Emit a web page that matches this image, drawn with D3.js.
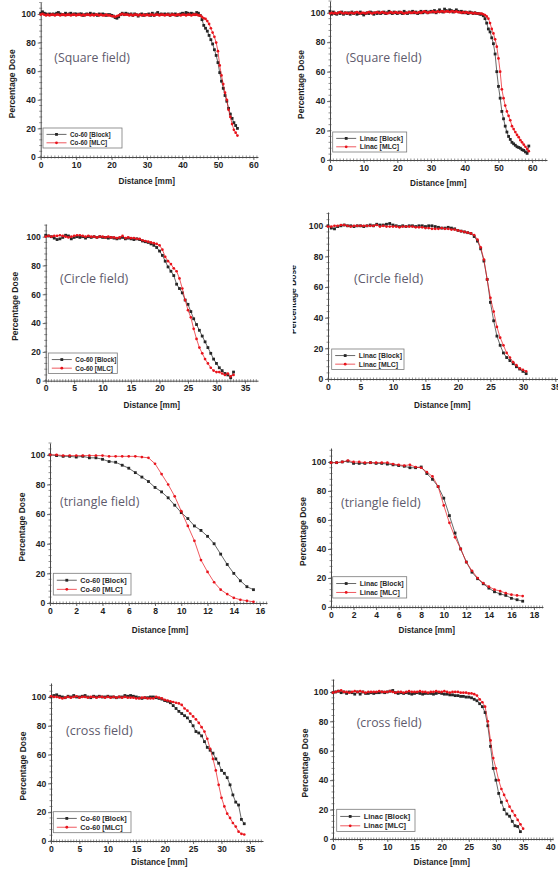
<!DOCTYPE html>
<html>
<head>
<meta charset="utf-8">
<script src="https://cdn.jsdelivr.net/npm/d3@7"></script>
<style>
  html, body { margin: 0; padding: 0; background: #fff; }
  svg { display: block; }
</style>
</head>
<body>
<svg id="chart" width="558" height="870"></svg>
<script>
const STEP = 0.5 // mm between measured points, every series starts at 0 mm

// Square field, Co-60 (0 .. 55.5 mm)
const squareCoBlock = [
  100.5, 101.5, 100.5, 100, 99.5, 100, 99.5, 100, 99.5, 100.5,
  101, 100, 99.5, 99.5, 100.5, 99.5, 100, 100.5, 99.5, 100,
  100, 99.5, 100, 100, 99, 99.5, 100, 99.5, 100.5, 99.5,
  100, 99.5, 99, 100, 99.5, 100, 99.5, 99, 99.5, 99.5,
  99, 98.5, 97.5, 97, 98, 99.5, 100.5, 99.5, 100.5, 100,
  99.5, 100, 99, 100, 99.5, 98.5, 99.5, 100, 99, 99.5,
  99.5, 100, 99, 100.5, 99, 100, 101, 99.5, 100, 99.5,
  100, 99.5, 100, 99, 100, 99.5, 100, 99, 99.5, 100,
  100.5, 100, 101, 100.5, 100, 100.5, 100, 99.5, 101, 100.5,
  99, 96, 92, 90, 88, 85, 82, 79, 75, 71, 66, 59, 53, 48, 43, 39, 34, 30, 27, 24, 22, 20
]
const squareCoMlc = [
  99.5, 100, 99.5, 99, 99.5, 99, 99.5, 99.5, 99, 99.5,
  99.5, 99, 99.5, 99.5, 99, 99.5, 99.5, 99, 99.5, 99.5,
  99, 99.5, 99.5, 99, 99.5, 99, 99.5, 99.5, 99, 99.5,
  99, 99.5, 99.5, 99, 99.5, 99, 99, 99.5, 99, 99,
  98.5, 98.5, 98, 98.5, 99, 99.5, 100, 99.5, 99.5, 99.5,
  99, 99.5, 99, 99.5, 99.5, 99, 99.5, 99, 99.5, 99,
  99.5, 99, 99.5, 99.5, 99, 99.5, 99.5, 99, 99.5, 99.5,
  99, 99.5, 99.5, 99, 99.5, 99.5, 99, 99.5, 99.5, 99,
  99.5, 99.5, 99, 99.5, 99.5, 99, 99.5, 99.5, 99.5, 99,
  99, 98, 97, 96.5, 95, 93, 90, 87, 84, 80, 74, 64, 57, 51, 45, 40, 33, 28, 23, 19, 17, 15
]

// Square field, Linac (0 .. 59 mm)
const squareLiBlock = [
  101, 99, 100.5, 99.5, 99, 100, 99.5, 100.5, 99, 100,
  99.5, 100, 99, 100.5, 99.5, 100, 99, 99.5, 100.5, 99.5,
  98.5, 99.5, 100, 99.5, 100.5, 100, 99, 100, 99.5, 100.5,
  99.5, 100, 100.5, 99.5, 100, 101, 100, 99.5, 100.5, 100,
  99.5, 100.5, 100, 99.5, 101, 100, 99.5, 100.5, 100, 101,
  100, 100.5, 99.5, 100, 101, 100, 100.5, 101, 100, 100.5,
  101, 100.5, 101.5, 100, 101, 102, 101, 100.5, 102.5, 101.5,
  101, 102, 101.5, 100.5, 101, 102, 101, 100.5, 101, 100,
  100.5, 100, 99.5, 100.5, 100, 99.5, 100, 99.5, 99.5, 99,
  99, 98, 96, 93, 89, 87, 83, 79, 72, 60, 50, 42, 33, 28, 23, 19, 16, 14, 12, 11,
  10, 9, 8.5, 8, 7, 6.5, 5.5, 4.5, 9.5
]
const squareLiMlc = [
  99.5, 100, 99.5, 100, 99.5, 100, 100.5, 100, 99.5, 100,
  100, 99.5, 100, 100, 99.5, 100, 100.5, 100, 99.5, 100,
  100, 99.5, 100, 100.5, 100, 99.5, 100, 100, 100.5, 100,
  100, 100.5, 100, 100, 99.5, 100, 100.5, 100, 100, 100.5,
  100, 100, 100.5, 100, 99.5, 100, 100, 100.5, 100, 100,
  100.5, 100, 100, 100.5, 100, 100.5, 101, 100.5, 100, 100.5,
  100.5, 101, 100.5, 100.5, 101, 100.5, 101, 101, 100.5, 101,
  101, 100.5, 101, 101, 100.5, 101, 100.5, 100.5, 100, 100.5,
  100, 100.5, 100, 100, 100, 99.5, 100, 99.5, 99.5, 99.5,
  99.5, 99, 98.5, 97.5, 96, 93, 89, 86, 82, 77, 69, 60, 48, 42, 37, 33, 30, 27, 23, 21,
  19, 17, 15.5, 13.5, 12, 10.5, 9, 7.5, 6
]

// Circle field, Co-60 (0 .. 33 mm)
const circleCoBlock = [
  101, 100.5, 100, 99, 98, 98.5, 99.5, 101, 100.5, 98.5,
  99.5, 100, 99.5, 100, 99, 100, 99.5, 100, 99.5, 100,
  99.5, 99.5, 99, 99.5, 99, 98.5, 99, 99.5, 98.5, 99,
  98.5, 98, 98.5, 98, 97, 96.5,
  96, 95, 94, 92.5, 90, 87, 83, 79, 76, 73, 67, 64, 61, 56, 53, 48, 43, 39, 35, 31,
  27, 23, 19, 15, 12, 9, 7, 5, 4, 2, 6
]
const circleCoMlc = [
  100, 100.5, 100, 100.5, 100.5, 101, 100.5, 100, 99.5, 100,
  100.5, 101, 101, 100.5, 100, 100.5, 100, 100, 99.5, 100,
  100, 99.5, 100, 99.5, 99.5, 99, 99.5, 100.5, 99, 99.5,
  99, 99, 98.5, 98.5, 97.5, 97,
  96.5, 96, 95.5, 95, 94, 91, 86, 83, 81, 78, 76, 71, 64, 56, 49, 44, 36, 29, 23, 19,
  15, 12, 9, 7, 6, 6, 5, 4, 5, 3, 4
]

// Circle field, Linac (0 .. 30.5 mm)
const circleLiBlock = [
  100, 98.5, 98, 99.5, 100, 100.5, 100, 100, 99.5, 100,
  100, 99.5, 100, 100.5, 100, 101, 100.5, 100.5, 101, 101.5,
  100.5, 100, 99.5, 100, 99.5, 100, 100, 99.5, 100, 100,
  99.5, 100, 100, 99.5, 99, 98.5, 98.5, 99, 98.5, 98,
  97, 96.5, 96, 95.5, 95, 93, 90, 85, 77, 65, 50, 38, 28, 22, 17, 14, 12, 10, 8, 6.5, 5, 3.5
]
const circleLiMlc = [
  99.5, 99.5, 100, 100, 100.5, 100.5, 100, 99.5, 100, 100,
  100, 100, 100, 100, 100, 100.5, 99.5, 100, 99.5, 99.5,
  99.5, 99.5, 99, 99.5, 99.5, 99.5, 99.5, 99, 99, 99,
  98.5, 98.5, 98, 98, 98, 98.5, 98, 98, 97.5, 97.5,
  97, 96.5, 96, 95.5, 95, 94, 91, 86, 78, 65, 53, 44, 34, 27, 22, 17, 14, 11, 9, 7, 6, 5
]

// Triangle field, Co-60 (0 .. 15.5 mm)
const triangleCoBlock = [
  100, 99.5, 99, 99, 98.5, 99, 98, 98, 97, 95.5, 95, 93, 91, 88, 85, 82,
  78, 75, 71, 66, 61, 57, 52, 49, 45, 40, 33, 26, 20, 15, 11, 9
]
const triangleCoMlc = [
  100, 100, 99.5, 99.5, 99.5, 99.5, 99.5, 99.5, 99.5, 99, 99, 99, 99, 99, 98.5, 98,
  94, 87, 80, 72, 62, 52, 42, 29, 21, 14, 9, 6, 3.5, 2.2, 1.5, 0.8
]

// Triangle field, Linac (0 .. 17 mm)
const triangleLiBlock = [
  99.5, 99.5, 100, 100.5, 99, 99, 99, 99.5, 99, 99, 98.5, 98, 97.5, 97, 96, 96,
  96.5, 92, 88, 83, 75, 63, 51, 40, 31, 24, 19.5, 16, 13, 10.5, 9, 8, 6, 5, 4
]
const triangleLiMlc = [
  99.5, 99.5, 100, 101, 100, 100, 99.5, 99.5, 99.5, 99.5, 99.5, 98.5, 98, 97.5, 98, 96.5,
  96, 93, 90, 83, 70, 58, 48, 40, 31, 25, 20, 16.5, 14, 12, 11, 9.5, 8.5, 8, 7.5
]

// Cross field, Co-60 (0 .. 34 mm)
const crossCoBlock = [
  100, 101, 101.5, 100.5, 100, 99.5, 100.5, 100, 101, 100,
  100, 100.5, 101, 100, 99.5, 100.5, 100, 100.5, 100, 100,
  100.5, 100, 100, 99.5, 100, 100, 101, 100.5, 101, 100.5,
  100, 99.5, 99, 99.5, 99.5, 100, 100, 99.5, 99, 98.5,
  97.5, 97, 96,
  94, 92, 90, 88.5, 87, 85.5, 83, 80, 76, 75, 73, 69, 65, 63, 61, 57, 54, 49, 47, 44,
  39, 32, 27, 25, 15, 12
]
const crossCoMlc = [
  100.5, 100, 100, 99.5, 99, 99.5, 100, 99.5, 100, 100.5,
  99.5, 100, 100, 99.5, 100, 100, 99.5, 100, 100, 99.5,
  100, 99.5, 100, 99.5, 100, 99.5, 100, 99.5, 99.5, 99.5,
  99, 99, 99.5, 99.5, 99, 99, 99, 100, 99.5, 99,
  98, 97.5, 97,
  96.5, 96, 95.5, 94.5, 92, 90.5, 88.5, 86.5, 84.5, 82, 79, 76, 71, 64, 57, 49, 39, 30,
  24, 19, 16, 12.5, 10, 6.5, 5, 4.5
]

// Cross field, Linac (0 .. 35 mm)
const crossLiBlock = [
  99.5, 100, 100.5, 99.5, 100, 99, 100, 99.5, 98.5, 100,
  98.5, 100, 99, 99, 99.5, 99, 99.5, 99.5, 100, 99.5,
  100, 100.5, 101, 99.5, 99, 99.5, 99, 99.5, 99, 98.5,
  99, 99.5, 99, 98.5, 99, 99, 99, 98.5, 99, 99.5,
  99, 98.5, 98.5, 98, 98, 97.5, 97.5, 97, 97, 96.5,
  96.5, 96, 95, 94,
  92, 90, 86, 77, 63, 48, 40, 31, 25, 20, 17, 15.5, 12, 9, 8.5, 5
]
const crossLiMlc = [
  99.5, 100, 100.5, 101, 100, 100, 99.5, 100, 100.5, 100,
  100.5, 100, 99.5, 100, 100, 100, 100, 100.5, 100, 100,
  100, 100.5, 100, 99.5, 100, 100, 99.5, 100, 100.5, 100,
  100, 100, 100.5, 100, 100, 99.5, 100, 100, 100.5, 100,
  100, 100.5, 100, 99.5, 100, 100, 100, 99.5, 99.5, 99.5,
  99, 99, 98.5, 97.5,
  95, 93, 90, 80, 67, 55, 48, 40, 34, 30, 26, 22, 19, 16, 13, 10, 7
]

const yMajor = [0, 20, 40, 60, 80, 100]

// page layout of the eight panels
const panels = [
  { block: squareCoBlock, mlc: squareCoMlc, src: 'Co-60', note: '(Square field)',
    left: 40.7, right: 258, xMax: 61.3, xStep: 10, xMinor: 1, top: 2.5, bottom: 157, yMax: 108,
    yTitleX: 11.7, xTitle: [146.7, 181.7], legend: [43, 128, 79, 20, 6.3], noteBox: [54.3, 57.3, 75.7] },
  { block: squareLiBlock, mlc: squareLiMlc, src: 'Linac', note: '(Square field)',
    left: 330, right: 547, xMax: 64.4, xStep: 10, xMinor: 1, top: 1, bottom: 160, yMax: 108,
    yTitleX: 300.7, xTitle: [438.3, 183.3], legend: [332.7, 132, 74, 20, 6.9], noteBox: [346, 57.3, 75.7] },
  { block: circleCoBlock, mlc: circleCoMlc, src: 'Co-60', note: '(Circle field)',
    left: 45.7, right: 258, xMax: 37.3, xStep: 5, xMinor: 0.5, top: 224, bottom: 380.7, yMax: 108.8,
    yTitleX: 15, xTitle: [151.7, 405], legend: [48.3, 353, 69, 20.5, 6.4], noteBox: [60, 278.3, 68.3] },
  { block: circleLiBlock, mlc: circleLiMlc, src: 'Linac', note: '(Circle field)',
    left: 328, right: 558, xMax: 35.4, xStep: 5, xMinor: 0.5, top: 212, bottom: 379, yMax: 109,
    yTitleX: 293.3, clipTitle: 292.8, xTitle: [442.3, 405], legend: [331.7, 349, 72.3, 20.5, 6.9], noteBox: [354, 278.3, 69.3] },
  { block: triangleCoBlock, mlc: triangleCoMlc, src: 'Co-60', note: '(triangle field)',
    left: 50, right: 267, xMax: 16.53, xStep: 2, xMinor: 0.25, top: 443, bottom: 603, yMax: 108,
    yTitleX: 21.7, xTitle: [160, 630], legend: [53.3, 573.3, 77.7, 21.7, 7.2], noteBox: [60, 501.7, 79.3] },
  { block: triangleLiBlock, mlc: triangleLiMlc, src: 'Linac', note: '(triangle field)',
    left: 331, right: 543, xMax: 18.8, xStep: 2, xMinor: 0.25, top: 448, bottom: 607, yMax: 109.6,
    yTitleX: 303.3, xTitle: [426.7, 630], legend: [332.7, 576.7, 74, 21.3, 7.0], noteBox: [341, 502.3, 79.7] },
  { block: crossCoBlock, mlc: crossCoMlc, src: 'Co-60', note: '(cross field)',
    left: 51, right: 263, xMax: 37.3, xStep: 5, xMinor: 0.5, top: 683, bottom: 841, yMax: 109.7,
    yTitleX: 22.7, xTitle: [159.3, 862.3], legend: [53.3, 811.7, 77.7, 21, 7.2], noteBox: [66, 730.7, 66.7] },
  { block: crossLiBlock, mlc: crossLiMlc, src: 'Linac', note: '(cross field)',
    left: 333, right: 553, xMax: 40.5, xStep: 5, xMinor: 0.5, top: 679, bottom: 839, yMax: 108.8,
    yTitleX: 305, xTitle: [441.7, 862], legend: [336.7, 809.3, 78.3, 22.3, 7.4], noteBox: [356.7, 722.7, 65] }
]

const BLACK = '#262626'
const RED = '#e8131b'
const AXIS = '#4a4a4a'
const BOLD = '"Liberation Sans", Arial, sans-serif'

const svg = d3.select('#chart')
const defs = svg.append('defs')

panels.forEach((p, k) => {
  const x = d3.scaleLinear().domain([0, p.xMax]).range([p.left, p.right])
  const y = d3.scaleLinear().domain([0, p.yMax]).range([p.bottom, p.top])
  const g = svg.append('g')

  // minor ticks, drawn across the axis lines (Origin style)
  const xMinor = d3.range(0, p.xMax + 1e-6, p.xMinor)
  g.append('g').selectAll('line').data(xMinor).join('line')
    .attr('x1', d => x(d)).attr('x2', d => x(d))
    .attr('y1', p.bottom - 1.5).attr('y2', p.bottom + 1.5)
    .attr('stroke', AXIS).attr('stroke-width', 0.6)
  const yMinor = d3.range(0, p.yMax + 1e-6, 4)
  g.append('g').selectAll('line').data(yMinor).join('line')
    .attr('x1', p.left - 1.5).attr('x2', p.left + 1.5)
    .attr('y1', d => y(d)).attr('y2', d => y(d))
    .attr('stroke', AXIS).attr('stroke-width', 0.6)

  // axes
  const xAxis = g.append('g')
    .attr('transform', `translate(0,${p.bottom})`)
    .call(d3.axisBottom(x)
      .tickValues(d3.range(0, p.xMax + 1e-6, p.xStep))
      .tickFormat(d3.format('d'))
      .tickSizeInner(3).tickSizeOuter(0).tickPadding(1.5))
  const yAxis = g.append('g')
    .attr('transform', `translate(${p.left},0)`)
    .call(d3.axisLeft(y)
      .tickValues(yMajor)
      .tickFormat(d3.format('d'))
      .tickSizeInner(3).tickSizeOuter(0).tickPadding(1.8))
  ;[xAxis, yAxis].forEach(a => {
    a.select('.domain').attr('stroke', AXIS).attr('stroke-width', 1)
    a.selectAll('.tick line').attr('stroke', AXIS).attr('stroke-width', 0.8)
    a.selectAll('.tick text')
      .attr('fill', '#1e1e1e')
      .attr('font-family', BOLD)
      .attr('font-weight', 'bold')
      .attr('font-size', '8.6px')
  })

  // axis titles
  g.append('text')
    .attr('x', p.xTitle[0]).attr('y', p.xTitle[1])
    .attr('text-anchor', 'middle')
    .attr('dominant-baseline', 'central')
    .attr('font-family', BOLD).attr('font-weight', 'bold')
    .attr('font-size', '8.2px').attr('fill', '#1e1e1e')
    .text('Distance [mm]')

  // the clip (one panel only) sits on a wrapper so it is not rotated with the text
  const titleWrap = g.append('g')
  if (p.clipTitle) {
    defs.append('clipPath').attr('id', 'cut' + k)
      .append('rect').attr('x', p.clipTitle).attr('y', p.top).attr('width', 30).attr('height', p.bottom - p.top)
    titleWrap.attr('clip-path', `url(#cut${k})`)
  }
  titleWrap.append('text')
    .attr('transform', `translate(${p.yTitleX},${(p.top + p.bottom) / 2 + 4}) rotate(-90)`)
    .attr('text-anchor', 'middle')
    .attr('dominant-baseline', 'central')
    .attr('font-family', BOLD).attr('font-weight', 'bold')
    .attr('font-size', '8.5px').attr('fill', '#1e1e1e')
    .text('Percentage Dose')

  // series
  const line = d3.line().x((d, i) => x(i * STEP)).y(d => y(d))
  g.append('path').datum(p.block)
    .attr('d', line).attr('fill', 'none')
    .attr('stroke', BLACK).attr('stroke-width', 0.7)
  g.append('g').selectAll('rect').data(p.block).join('rect')
    .attr('x', (d, i) => x(i * STEP) - 1.4).attr('y', d => y(d) - 1.4)
    .attr('width', 2.8).attr('height', 2.8)
    .attr('fill', BLACK)
  g.append('path').datum(p.mlc)
    .attr('d', line).attr('fill', 'none')
    .attr('stroke', RED).attr('stroke-width', 0.7)
  g.append('g').selectAll('circle').data(p.mlc).join('circle')
    .attr('cx', (d, i) => x(i * STEP)).attr('cy', d => y(d))
    .attr('r', 1.35)
    .attr('fill', RED)

  // legend
  const [lx, ly, lw, lh, fs] = p.legend
  const lg = g.append('g').attr('transform', `translate(${lx},${ly})`)
  lg.append('rect')
    .attr('width', lw).attr('height', lh)
    .attr('fill', '#fff').attr('stroke', '#7a7a7a').attr('stroke-width', 0.8)
  const items = [
    { label: `${p.src} [Block]`, color: BLACK, square: true },
    { label: `${p.src} [MLC]`, color: RED, square: false }
  ]
  items.forEach((it, j) => {
    const ry = lh * (j === 0 ? 0.32 : 0.74)
    lg.append('line')
      .attr('x1', 3.5).attr('x2', 23.5).attr('y1', ry).attr('y2', ry)
      .attr('stroke', it.color).attr('stroke-width', 0.7)
    if (it.square) {
      lg.append('rect').attr('x', 12.1).attr('y', ry - 1.4).attr('width', 2.8).attr('height', 2.8).attr('fill', it.color)
    } else {
      lg.append('circle').attr('cx', 13.5).attr('cy', ry).attr('r', 1.4).attr('fill', it.color)
    }
    lg.append('text')
      .attr('x', 27).attr('y', ry)
      .attr('dominant-baseline', 'central')
      .attr('font-family', BOLD).attr('font-weight', 'bold')
      .attr('font-size', fs + 'px').attr('fill', '#2a2a2a')
      .text(it.label)
  })

  // field annotation
  const [nx, ny, nw] = p.noteBox
  g.append('text')
    .attr('x', nx).attr('y', ny)
    .attr('dominant-baseline', 'central')
    .attr('font-family', '"Open Sans", "Noto Sans", sans-serif')
    .attr('font-size', '12px')
    .attr('fill', '#5e5a6c')
    .attr('textLength', nw).attr('lengthAdjust', 'spacingAndGlyphs')
    .text(p.note)
})
</script>
</body>
</html>
